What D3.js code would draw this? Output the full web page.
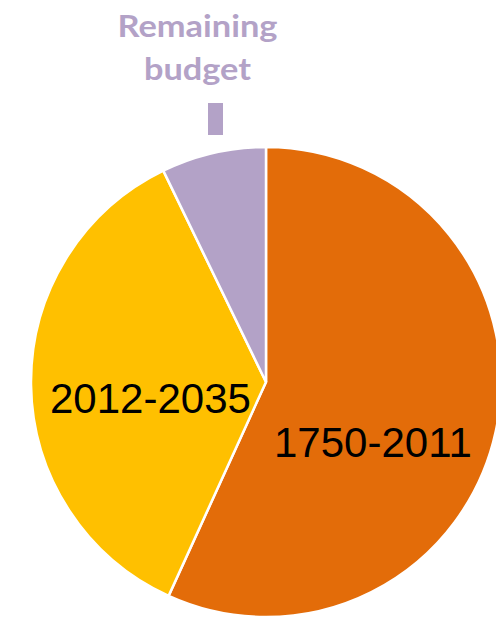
<!DOCTYPE html>
<html>
<head>
<meta charset="utf-8">
<script src="https://cdn.jsdelivr.net/npm/d3@7"></script>
<style>
  body { margin: 0; background: #ffffff; }
</style>
</head>
<body>
<div id="chart-container"></div>
<script>
// Slices in clockwise order starting at 12 o'clock
const periods = ["1750-2011", "2012-2035", "Remaining budget"];
const shares = [56.8, 36.0, 7.2];
const colours = ["#e36c09", "#ffc000", "#b3a2c7"];

const width = 496, height = 621;
const cx = 266, cy = 382, radius = 235;

const svg = d3.select("#chart-container")
  .append("svg")
  .attr("width", width)
  .attr("height", height);

const g = svg.append("g")
  .attr("transform", `translate(${cx},${cy})`);

const pie = d3.pie().sort(null).value(d => d.value);
const arc = d3.arc().innerRadius(0).outerRadius(radius);

const slices = pie(periods.map((p, i) => ({ name: p, value: shares[i], colour: colours[i] })));

g.selectAll("path")
  .data(slices)
  .join("path")
  .attr("d", arc)
  .attr("fill", d => d.data.colour)
  .attr("stroke", "#ffffff")
  .attr("stroke-width", 2.5);

// labels inside the two big slices
g.append("text")
  .attr("x", 274 - cx)
  .attr("y", 457 - cy)
  .attr("font-family", "Liberation Sans, Arial, sans-serif")
  .attr("font-size", 42)
  .attr("fill", "#000")
  .text(periods[0]);

g.append("text")
  .attr("x", 50 - cx)
  .attr("y", 413 - cy)
  .attr("font-family", "Liberation Sans, Arial, sans-serif")
  .attr("font-size", 42)
  .attr("fill", "#000")
  .text(periods[1]);

// remaining budget label above the pie, with small leader bar
const words = periods[2].split(" ");
const wordWidths = [160, 107];
svg.append("g")
  .attr("text-anchor", "middle")
  .attr("font-family", "Lato, Open Sans, sans-serif")
  .attr("font-weight", "bold")
  .attr("font-size", 31)
  .attr("fill", colours[2])
  .selectAll("text")
  .data(words)
  .join("text")
  .attr("x", 197.5)
  .attr("y", (d, i) => i === 0 ? 37 : 80)
  .attr("textLength", (d, i) => wordWidths[i])
  .attr("lengthAdjust", "spacingAndGlyphs")
  .text(d => d);

svg.append("rect")
  .attr("x", 208)
  .attr("y", 103)
  .attr("width", 15)
  .attr("height", 32)
  .attr("fill", colours[2]);
</script>
</body>
</html>
